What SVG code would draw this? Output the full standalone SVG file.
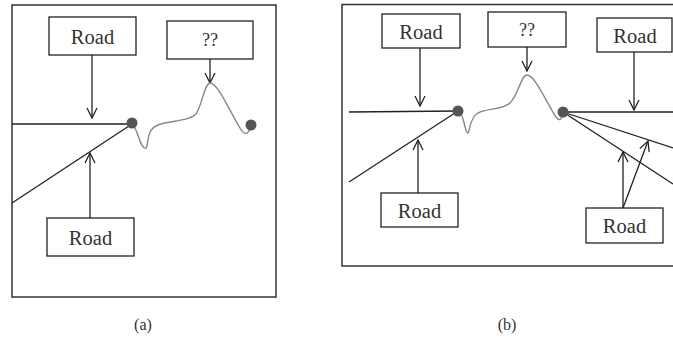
<svg xmlns="http://www.w3.org/2000/svg" width="673" height="345" viewBox="0 0 673 345">
<defs>
<marker id="arr" viewBox="0 0 12 12" refX="11" refY="6" markerWidth="12" markerHeight="12" markerUnits="userSpaceOnUse" orient="auto">
<path d="M1,1 L11,6 L1,11" fill="none" stroke="#222" stroke-width="1.3"/>
</marker>
<style>
.frame{fill:#fff;stroke:#333;stroke-width:1.5}
.box{fill:#fff;stroke:#222;stroke-width:1.3}
.t{font-family:"Liberation Serif",serif;font-size:20.5px;fill:#333;text-anchor:middle}
.q{font-family:"Liberation Serif",serif;font-size:18px;fill:#333;text-anchor:middle}
.cap{font-family:"Liberation Serif",serif;font-size:16px;fill:#333;text-anchor:middle}
.ln{fill:none;stroke:#222;stroke-width:1.3}
.ar{fill:none;stroke:#222;stroke-width:1.3;marker-end:url(#arr)}
.crv{fill:none;stroke:#888;stroke-width:1.4}
.dot{fill:#555}
</style>
</defs>
<rect width="673" height="345" fill="#fff"/>
<rect class="frame" x="12" y="5" width="264" height="292"/>
<rect class="frame" x="342" y="4.5" width="340" height="261.5"/>
<g id="connectors">
<line class="ln" x1="12" y1="124" x2="132" y2="124"/>
<line class="ln" x1="12" y1="203" x2="132" y2="124"/>
<line class="ar" x1="92" y1="55" x2="92" y2="118"/>
<line class="ar" x1="90" y1="218" x2="90" y2="153"/>
<line class="ar" x1="210" y1="59" x2="210" y2="83"/>
<path class="crv" d="M132,124 C138,128 140,150 146,148 C149,146 145,130 158,125 C170,120 188,122 196,114 C202,106 204,84 210,83 C218,83 230,112 240,128 C244,135 248,136 251,126"/>
<line class="ln" x1="349" y1="112" x2="458" y2="111"/>
<line class="ln" x1="349" y1="182" x2="458" y2="111"/>
<line class="ar" x1="420" y1="48" x2="420" y2="106"/>
<line class="ar" x1="418" y1="193" x2="418" y2="140"/>
<line class="ar" x1="527" y1="47" x2="527" y2="71"/>
<path class="crv" d="M459,111 C464,114 465,134 468,133 C470,132 469,118 478,113 C488,108 502,110 510,103 C518,96 521,75 527,75 C535,75 546,102 556,117 C559,121 561,121 563,113"/>
<line class="ln" x1="563" y1="112" x2="673" y2="112"/>
<line class="ln" x1="563" y1="112" x2="673" y2="148"/>
<line class="ln" x1="563" y1="112" x2="673" y2="184"/>
<line class="ar" x1="634" y1="52" x2="634" y2="110"/>
<line class="ar" x1="623" y1="208" x2="623" y2="152"/>
<line class="ar" x1="623" y1="208" x2="648" y2="141"/>
</g>
<g id="dots">
<circle class="dot" cx="132" cy="123" r="5.5"/>
<circle class="dot" cx="251" cy="125" r="5.5"/>
<circle class="dot" cx="458" cy="111" r="5.5"/>
<circle class="dot" cx="563" cy="112" r="5.5"/>
</g>
<g id="a-road-top"><rect class="box" x="49" y="17" width="87" height="38"/><text class="t" x="92.5" y="44">Road</text></g>
<g id="a-q"><rect class="box" x="167" y="21" width="86" height="38"/><text class="q" x="210" y="46">??</text></g>
<g id="a-road-bottom"><rect class="box" x="47" y="218" width="87" height="38"/><text class="t" x="90.5" y="245">Road</text></g>
<g id="b-road-top-left"><rect class="box" x="382" y="14" width="78" height="34"/><text class="t" x="421" y="39">Road</text></g>
<g id="b-q"><rect class="box" x="488" y="12" width="78" height="35"/><text class="q" x="527" y="36">??</text></g>
<g id="b-road-top-right"><rect class="box" x="597" y="18" width="75" height="34"/><text class="t" x="635" y="43">Road</text></g>
<g id="b-road-bottom-left"><rect class="box" x="381" y="193" width="77" height="34"/><text class="t" x="419.5" y="218">Road</text></g>
<g id="b-road-bottom-right"><rect class="box" x="586" y="208" width="77" height="35"/><text class="t" x="624.5" y="233">Road</text></g>
<text class="cap" x="143" y="330">(a)</text>
<text class="cap" x="507" y="330">(b)</text>
</svg>
